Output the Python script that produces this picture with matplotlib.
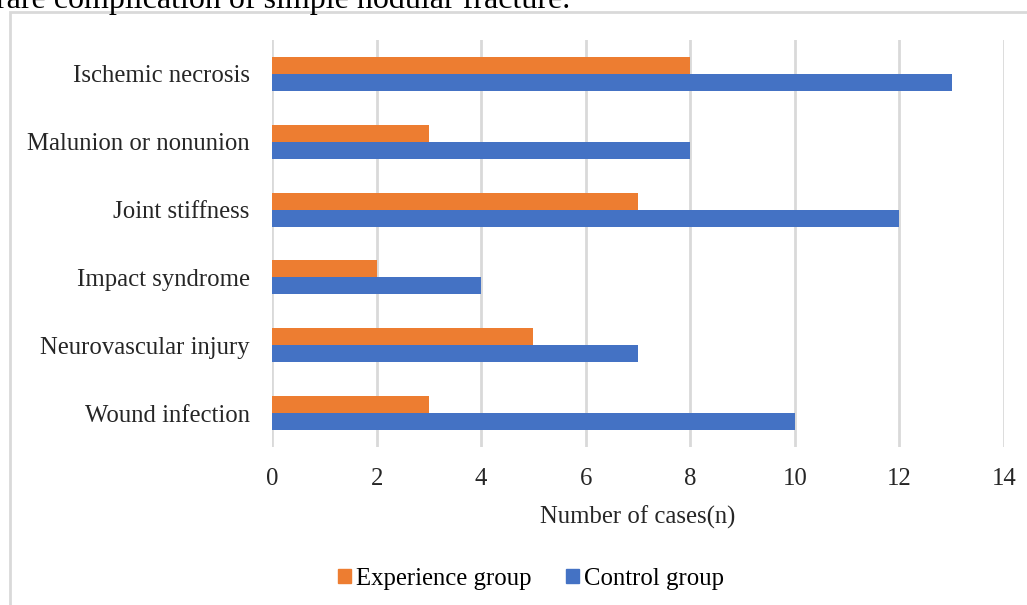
import matplotlib.pyplot as plt
from matplotlib.patches import Patch, Rectangle

# categories listed bottom to top (as drawn on the y axis)
categories = ["Wound infection", "Neurovascular injury", "Impact syndrome",
              "Joint stiffness", "Malunion or nonunion", "Ischemic necrosis"]
experience = [3, 5, 2, 7, 3, 8]
control = [10, 7, 4, 12, 8, 13]
xticks = [0, 2, 4, 6, 8, 10, 12, 14]

orange = "#ED7D31"
blue = "#4472C4"
grid_col = "#D9D9D9"
fs = 17.8

plt.rcParams['font.family'] = ['Liberation Serif', 'DejaVu Serif']

fig = plt.figure(figsize=(10.27, 6.05), dpi=100)

# outer chart frame (cut off at right and bottom like the screenshot)
fig.patches.append(Rectangle((10 / 1027, -0.05), 1.2, (605 - 12) / 605 + 0.05,
                             transform=fig.transFigure, fill=False,
                             edgecolor="#D9D9D9", linewidth=2))

# caption line above, partly cut off
fig.text(-4 / 1027, (605 - 8) / 605, "rare complication of simple nodular fracture.",
         fontsize=23, va="baseline", ha="left")

ax = fig.add_axes([272 / 1027, (605 - 447) / 605, (1004 - 272) / 1027, (447 - 40) / 605])

ypos = list(range(len(categories)))
h = 0.25
ax.barh([y + h / 2 for y in ypos], experience, height=h, color=orange, zorder=3)
ax.barh([y - h / 2 for y in ypos], control, height=h, color=blue, zorder=3)

ax.set_xlim(0, 14)
ax.set_ylim(-0.5, len(categories) - 0.5)
ax.set_xticks(xticks)
ax.set_yticks(ypos)
ax.set_yticklabels(categories)
ax.xaxis.grid(True, color=grid_col, linewidth=2, zorder=0)
ax.set_axisbelow(True)
for s in ax.spines.values():
    s.set_visible(False)
ax.tick_params(axis='both', length=0, labelsize=fs, colors="#262626")
ax.tick_params(axis='x', pad=15)
ax.tick_params(axis='y', pad=16)
ax.set_xlabel("Number of cases(n)", fontsize=fs, color="#262626", labelpad=11)

handles = [Patch(color=orange, label="Experience group"),
           Patch(color=blue, label="Control group")]
fig.legend(handles=handles, loc="center", bbox_to_anchor=(531 / 1027, (605 - 579) / 605),
           ncol=2, frameon=False, fontsize=fs, handlelength=0.52, handleheight=0.52,
           handletextpad=0.2, columnspacing=1.4, borderpad=0)

fig.savefig("out.png", dpi=100)
